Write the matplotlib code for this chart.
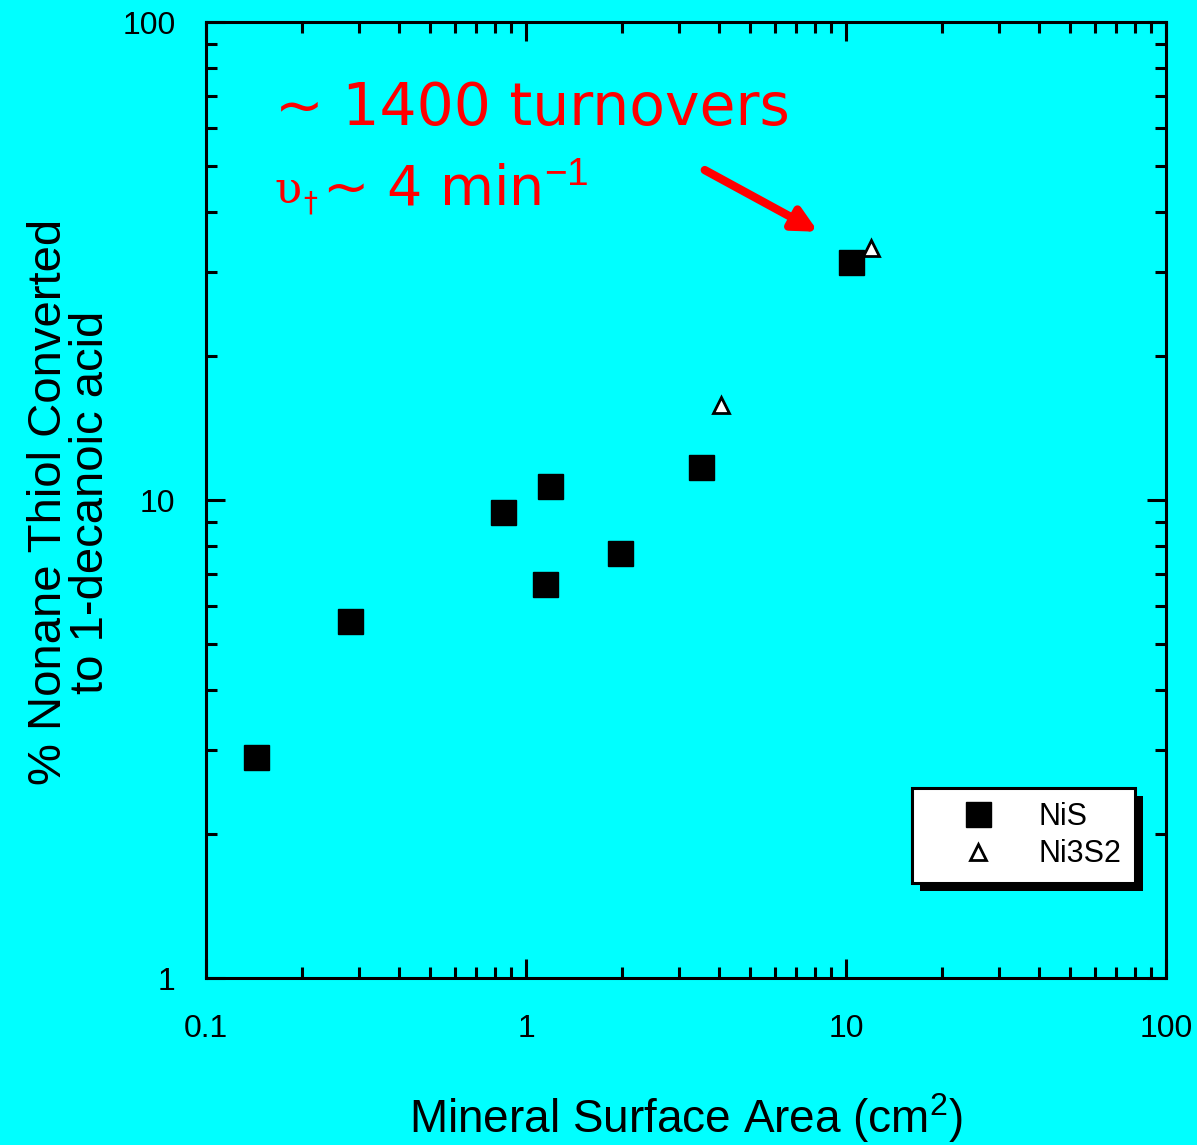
import matplotlib
matplotlib.use("Agg")
import matplotlib.pyplot as plt
from matplotlib.patches import Rectangle
from matplotlib.ticker import LogLocator, NullFormatter, FixedLocator, FixedFormatter

# Data
nis_area = [0.143, 0.282, 0.848, 1.19, 1.15, 1.97, 3.52, 10.4]
nis_pct = [2.90, 5.58, 9.44, 10.7, 6.67, 7.75, 11.7, 31.5]
ni3s2_area = [4.07, 11.97]
ni3s2_pct = [15.8, 33.7]
x_ticks = [0.1, 1, 10, 100]
x_labels = ["0.1", "1", "10", "100"]
y_ticks = [1, 10, 100]
y_labels = ["1", "10", "100"]

plt.rcParams["font.family"] = ["Liberation Sans", "DejaVu Sans"]
plt.rcParams["mathtext.fontset"] = "custom"
plt.rcParams["mathtext.rm"] = "Liberation Sans"
plt.rcParams["mathtext.it"] = "Liberation Sans:italic"

BG = "#00FFFF"
W, H = 1197, 1145
fig = plt.figure(figsize=(W / 100, H / 100), dpi=100, facecolor=BG)
ax = fig.add_axes([206 / W, (H - 978) / H, 960 / W, 956 / H], facecolor=BG)
ax.set_xscale("log")
ax.set_yscale("log")
ax.set_xlim(0.1, 100)
ax.set_ylim(1, 100)

ax.plot(nis_area, nis_pct, linestyle="none", marker="s", markersize=18,
        color="black", label="NiS", zorder=3)
ax.plot(ni3s2_area, ni3s2_pct, linestyle="none", marker="^", markersize=12,
        markerfacecolor="white", markeredgecolor="black", markeredgewidth=2,
        label="Ni3S2", zorder=3)

for s in ax.spines.values():
    s.set_linewidth(2.2)

ax.xaxis.set_major_locator(FixedLocator(x_ticks))
ax.xaxis.set_major_formatter(FixedFormatter(x_labels))
ax.yaxis.set_major_locator(FixedLocator(y_ticks))
ax.yaxis.set_major_formatter(FixedFormatter(y_labels))
ax.xaxis.set_minor_locator(LogLocator(base=10, subs=range(2, 10)))
ax.yaxis.set_minor_locator(LogLocator(base=10, subs=range(2, 10)))
ax.xaxis.set_minor_formatter(NullFormatter())
ax.yaxis.set_minor_formatter(NullFormatter())
ax.tick_params(which="both", direction="in", top=True, right=True, width=2.2)
ax.tick_params(which="major", length=14, labelsize=23)
ax.tick_params(which="minor", length=8)
ax.tick_params(axis="x", which="major", pad=26)
ax.tick_params(axis="y", which="major", pad=22)

ax.set_xlabel("Mineral Surface Area (cm$^2$)", fontsize=33)
ax.xaxis.set_label_coords(0.5, -0.118)

fig.text(70 / W, 1 - 502 / H, "% Nonane Thiol Converted\nto 1-decanoic acid",
         rotation=90, ha="center", va="center", multialignment="center",
         fontsize=34, linespacing=0.95)

# Annotation
fig.text(275 / W, 1 - 125 / H, "~ 1400 turnovers", color="red", fontsize=42,
         fontfamily="DejaVu Sans", va="baseline")
fig.text(274 / W, 1 - 203 / H, "υ", color="red", fontsize=32,
         fontfamily="DejaVu Serif", va="baseline")
fig.text(303 / W, 1 - 212 / H, "†", color="red", fontsize=20,
         fontfamily="DejaVu Sans", va="baseline")
fig.text(322 / W, 1 - 205 / H, "~ 4 min$^{-1}$", color="red",
         fontsize=40, fontfamily="DejaVu Sans", va="baseline")
ax.annotate("", xy=(8.18, 36.4), xytext=(3.62, 49.0),
            arrowprops=dict(arrowstyle="-|>,head_length=1.4,head_width=0.7",
                            color="red", lw=6, shrinkA=0, shrinkB=0))

leg = ax.legend(loc="lower right", bbox_to_anchor=(0.968, 0.0994),
                borderaxespad=0, fancybox=False, edgecolor="black",
                framealpha=1, facecolor="white",
                prop={"family": "Liberation Sans", "size": 22},
                handletextpad=0.3, borderpad=0.45, labelspacing=0.25,
                handlelength=3.4, markerscale=1.0)
leg.get_frame().set_linewidth(2.2)
leg.set_zorder(6)

fig.canvas.draw()
bb = leg.get_window_extent()
inv = fig.transFigure.inverted()
(x0, y0) = inv.transform((bb.x0 + 8, bb.y0 - 8))
(x1, y1) = inv.transform((bb.x1 + 8, bb.y1 - 8))
shadow = Rectangle((x0, y0), x1 - x0, y1 - y0, transform=fig.transFigure,
                   facecolor="black", edgecolor="none", zorder=5)
ax.add_artist(shadow)
shadow.set_transform(fig.transFigure)
shadow.set_clip_on(False)

fig.savefig("out.png", dpi=100, facecolor=BG)
